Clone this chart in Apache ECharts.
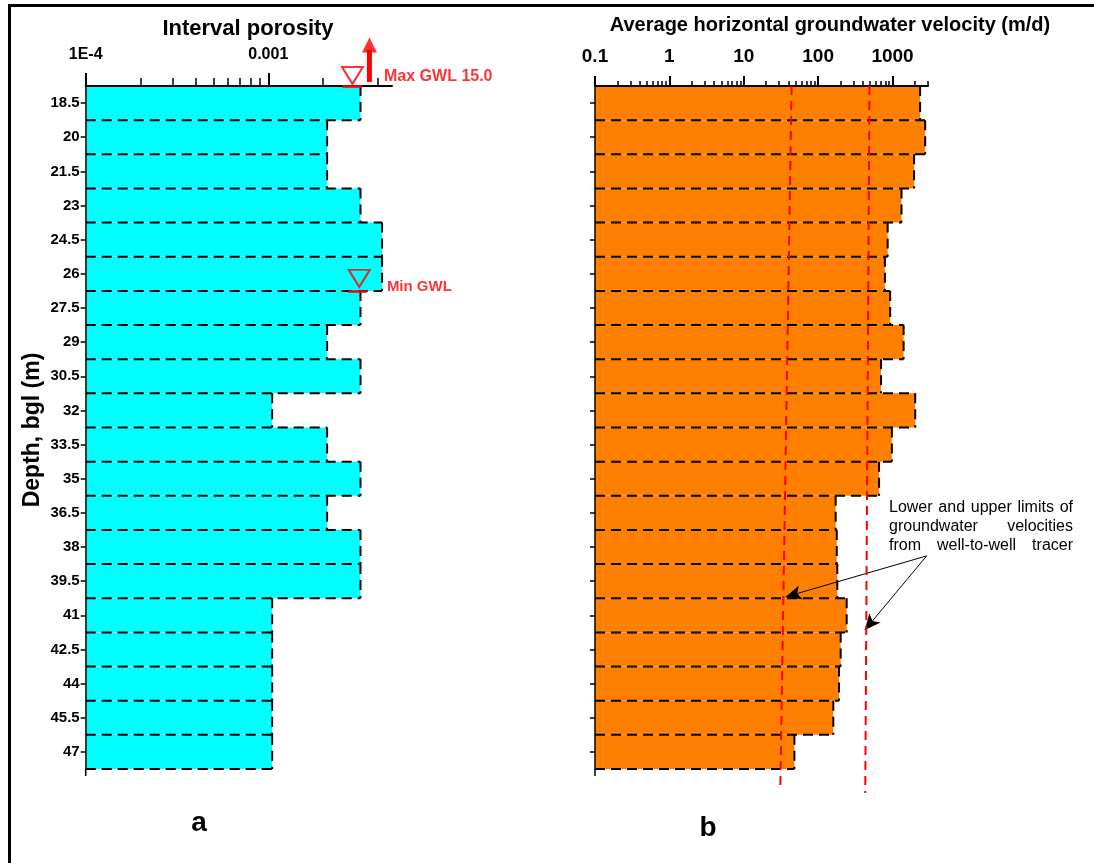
<!DOCTYPE html>
<html>
<head>
<meta charset="utf-8">
<script src="https://cdn.jsdelivr.net/npm/echarts@6/dist/echarts.min.js"></script>
<style>
  html, body { margin: 0; padding: 0; background: #fff; }
  #chart { width: 1094px; height: 863px; }
</style>
</head>
<body>
<div id="chart"></div>
<script>
// ---- data ----
const depthLabels = ['18.5', '20', '21.5', '23', '24.5', '26', '27.5', '29', '30.5', '32',
  '33.5', '35', '36.5', '38', '39.5', '41', '42.5', '44', '45.5', '47'];

// (a) interval porosity per 1.5 m interval
const porosity = [0.0032, 0.0021, 0.0021, 0.0032, 0.0042, 0.0042, 0.0032, 0.0021, 0.0032, 0.00105,
  0.0021, 0.0032, 0.0021, 0.0032, 0.0032, 0.00105, 0.00105, 0.00105, 0.00105, 0.00105];

// (b) average horizontal groundwater velocity, m/d
const velocity = [2350, 2750, 1950, 1320, 860, 790, 930, 1410, 700, 2020,
  980, 660, 172, 178, 181, 242, 201, 191, 160, 48];

const porosityRange = [0.0001, 0.00476];
const porosityMajorTicks = [0.0001, 0.001];
const porosityTickText = ['1E-4', '0.001'];
const porosityMinorTicks = [0.0002, 0.0003, 0.0004, 0.0005, 0.0006, 0.0007, 0.0008, 0.0009, 0.002, 0.004];

const velocityRange = [0.1, 3000];
const velocityMajorTicks = [0.1, 1, 10, 100, 1000];
const velocityTickText = ['0.1', '1', '10', '100', '1000'];
const velocityMinorTicks = [0.2, 0.3, 0.4, 0.5, 0.6, 0.7, 0.8, 0.9, 2, 3, 4, 5, 6, 7, 8, 9,
  20, 30, 40, 50, 60, 70, 80, 90, 200, 300, 400, 500, 600, 700, 800, 900, 2000, 3000];

// depth extent of the logged section (interval edges), m bgl
const depthRange = [17.75, 47.75];

// tracer velocity limits drawn as dashed verticals: [velocity, depth]
const tracerLower = [[44, 17.75], [31, 48.6]];
const tracerUpper = [[490, 17.75], [430, 48.8]];
// pointer arrows from the note to the two limit lines
const tracerArrowFrom = [2877, 38.39];
const tracerArrowTo = [[36.5, 40.19], [424, 41.65]];

// groundwater levels: max GWL (15.0 m) lies above the section, min GWL at 26.75 m
const gwlMarks = [
  { name: 'Max GWL 15.0', porosity: 0.00289, depth: 17.75, under: [0.00254, 0.00326] },
  { name: 'Min GWL', porosity: 0.00315, depth: 26.75, under: [0.00273, 0.00347] }
];
const maxGwlArrow = { porosity: 0.00358, from: 17.57, to: 16.15, head: 15.95 };

// ---- styling helpers ----
const FONT = 'Arial, "Liberation Sans", sans-serif';
const RED = '#ff0000';

function tickFormatter(ticks, texts) {
  return function (v) {
    for (let k = 0; k < ticks.length; k++) {
      if (Math.abs(Math.log10(v) - Math.log10(ticks[k])) < 1e-6) return texts[k];
    }
    return '';
  };
}

function majorLogAxis(gridIndex, range, ticks, texts, labelSize, margin, tickLen) {
  return {
    type: 'log', logBase: 10, gridIndex, position: 'top',
    min: range[0], max: range[1], z: 3,
    axisLine: { show: true, lineStyle: { color: '#000', width: 2 } },
    axisTick: { show: true, inside: false, length: tickLen, customValues: ticks,
      lineStyle: { color: '#000', width: 2 } },
    axisLabel: { show: true, customValues: ticks, margin,
      formatter: tickFormatter(ticks, texts),
      color: '#000', fontSize: labelSize, fontWeight: 'bold', fontFamily: FONT },
    splitLine: { show: false }, minorTick: { show: false }
  };
}

function minorLogAxis(gridIndex, range, ticks, tickLen) {
  return {
    type: 'log', logBase: 10, gridIndex, position: 'top',
    min: range[0], max: range[1], z: 3,
    axisLine: { show: false },
    axisTick: { show: true, inside: false, length: tickLen, customValues: ticks,
      lineStyle: { color: '#000', width: 1.5 } },
    axisLabel: { show: false },
    splitLine: { show: false }
  };
}

function depthCategoryAxis(gridIndex, showLabels) {
  return {
    type: 'category', gridIndex, data: depthLabels, inverse: true, position: 'left', z: 3,
    axisLine: { show: true, lineStyle: { color: '#000', width: 1.5 } },
    axisTick: { show: true, alignWithLabel: true, length: 5, lineStyle: { color: '#000', width: 1.5 } },
    axisLabel: { show: showLabels, margin: 6, color: '#000', fontSize: 15, fontWeight: 'bold', fontFamily: FONT },
    splitLine: { show: false }
  };
}

function depthValueAxis(gridIndex) {
  return { type: 'value', gridIndex, min: depthRange[0], max: depthRange[1], inverse: true, show: false,
    position: 'right', splitLine: { show: false } };
}

// Interval bars: filled band plus dashed top/right edges (bottom edge on the last interval)
function intervalBars(values, axisMin, fill, xIdx, yIdx) {
  return {
    type: 'custom', xAxisIndex: xIdx, yAxisIndex: yIdx, z: 2,
    data: values.map((v, i) => [v, depthLabels[i]]),
    encode: { x: 0, y: 1 },
    renderItem: function (params, api) {
      const i = params.dataIndex;
      const end = api.coord([values[i], depthLabels[i]]);
      const x0 = api.coord([axisMin, depthLabels[i]])[0];
      const band = api.size([0, 1], [values[i], depthLabels[i]])[1];
      const yTop = end[1] - band / 2;
      const yBot = end[1] + band / 2;
      const dash = { stroke: '#000', lineWidth: 2, lineDash: [10, 6], fill: null };
      const children = [{
        type: 'rect', z2: 0,
        shape: { x: x0, y: yTop, width: end[0] - x0, height: band },
        style: { fill: fill, stroke: null }
      }];
      if (i > 0) {
        const prevX = api.coord([values[i - 1], depthLabels[i - 1]])[0];
        children.push({ type: 'line', z2: 5, shape: { x1: x0, y1: yTop, x2: Math.max(prevX, end[0]), y2: yTop }, style: dash });
      }
      children.push({ type: 'line', z2: 5, shape: { x1: end[0], y1: yTop, x2: end[0], y2: yBot }, style: dash });
      if (i === values.length - 1) {
        children.push({ type: 'line', z2: 5, shape: { x1: x0, y1: yBot, x2: end[0], y2: yBot }, style: dash });
      }
      return { type: 'group', children };
    }
  };
}

// justified note text, word by word
const measureCtx = document.createElement('canvas').getContext('2d');
const NOTE_FONT = '16px ' + FONT;
function justifiedLine(words, left, right, y) {
  measureCtx.font = NOTE_FONT;
  const widths = words.map(w => measureCtx.measureText(w).width);
  const total = widths.reduce((a, b) => a + b, 0);
  const gap = words.length > 1 ? (right - left - total) / (words.length - 1) : 0;
  let x = left;
  return words.map((w, k) => {
    const el = { type: 'text', x: x, y: y, z: 20,
      style: { text: w, font: NOTE_FONT, fill: '#000', verticalAlign: 'middle', align: 'left' } };
    x += widths[k] + gap;
    return el;
  });
}

const noteLines = [
  ['Lower', 'and', 'upper', 'limits', 'of'],
  ['groundwater', 'velocities'],
  ['from', 'well-to-well', 'tracer']
];
const noteY = [508, 527, 546];
let noteElements = [];
noteLines.forEach((words, k) => {
  noteElements = noteElements.concat(justifiedLine(words, 889, 1073, noteY[k]));
});

// axis lines run a few pixels past the last interval
function axisTail(x) {
  return { type: 'line', z: 20, shape: { x1: x, y1: 769, x2: x, y2: 776 },
    style: { stroke: '#000', lineWidth: 1.5 } };
}

const chart = echarts.init(document.getElementById('chart'), null, { renderer: 'canvas' });

const option = {
  backgroundColor: '#ffffff',
  animation: false,
  grid: [
    { left: 85.7, top: 86, width: 306.3, height: 683, containLabel: false, outerBoundsMode: 'none' },
    { left: 595, top: 86, width: 333, height: 683, containLabel: false, outerBoundsMode: 'none' }
  ],
  xAxis: [
    majorLogAxis(0, porosityRange, porosityMajorTicks, porosityTickText, 16, 23, 13),
    minorLogAxis(0, porosityRange, porosityMinorTicks, 8),
    majorLogAxis(1, velocityRange, velocityMajorTicks, velocityTickText, 19, 20, 10),
    minorLogAxis(1, velocityRange, velocityMinorTicks, 5)
  ],
  yAxis: [
    depthCategoryAxis(0, true),
    depthValueAxis(0),
    depthCategoryAxis(1, false),
    depthValueAxis(1)
  ],
  series: [
    intervalBars(porosity, porosityRange[0], '#00ffff', 0, 0),
    intervalBars(velocity, velocityRange[0], '#ff8000', 2, 2),
    {
      name: 'Lower tracer limit', type: 'line', xAxisIndex: 2, yAxisIndex: 3, z: 6,
      data: tracerLower, symbol: 'none', clip: false,
      lineStyle: { color: RED, width: 2, type: [9, 6] }
    },
    {
      name: 'Upper tracer limit', type: 'line', xAxisIndex: 2, yAxisIndex: 3, z: 6,
      data: tracerUpper, symbol: 'none', clip: false,
      lineStyle: { color: RED, width: 2, type: [9, 6] },
      markLine: {
        silent: true, symbol: ['none', 'arrow'], symbolSize: [11, 16], precision: 6,
        label: { show: false },
        lineStyle: { color: '#000', width: 1, type: 'solid' },
        emphasis: { disabled: true },
        data: tracerArrowTo.map(p => [{ coord: tracerArrowFrom }, { coord: p }])
      }
    },
    {
      name: 'GWL', type: 'scatter', xAxisIndex: 0, yAxisIndex: 1, z: 7, clip: false,
      symbol: 'path://M0,0 L20,0 L10,17 Z', symbolSize: [21, 17],
      itemStyle: { color: 'rgba(0,0,0,0)', borderColor: RED, borderWidth: 2 },
      label: { show: true, position: 'right', formatter: '{b}', color: RED,
        fontSize: 15, fontWeight: 'bold', fontFamily: FONT },
      data: gwlMarks.map((g, k) => ({
        name: g.name, value: [g.porosity, g.depth],
        symbolOffset: k === 0 ? [0, -10.5] : [0, -12.5],
        label: k === 0 ? { distance: 20, offset: [0, 1], fontSize: 16 } : { distance: 16, offset: [0, 8.5] }
      })),
      markLine: {
        silent: true, symbol: ['none', 'none'], label: { show: false }, precision: 6,
        lineStyle: { color: RED, width: 2.5, type: 'solid' },
        emphasis: { disabled: true },
        data: gwlMarks.map(g => [{ coord: [g.under[0], g.depth] }, { coord: [g.under[1], g.depth] }])
      }
    },
    {
      name: 'Max GWL shaft', type: 'line', xAxisIndex: 0, yAxisIndex: 1, z: 7, clip: false,
      symbol: 'none', lineStyle: { color: RED, width: 5 },
      data: [[maxGwlArrow.porosity, maxGwlArrow.from], [maxGwlArrow.porosity, maxGwlArrow.to]]
    },
    {
      name: 'Max GWL head', type: 'scatter', xAxisIndex: 0, yAxisIndex: 1, z: 7, clip: false,
      symbol: 'triangle', symbolSize: [15, 15], itemStyle: { color: RED },
      data: [[maxGwlArrow.porosity, maxGwlArrow.head]]
    }
  ],
  graphic: [
    { type: 'rect', z: 30, shape: { x: 9.5, y: 5.5, width: 1200, height: 1000 },
      style: { fill: null, stroke: '#000', lineWidth: 3 } },
    { type: 'text', x: 248, y: 29, z: 20,
      style: { text: 'Interval porosity', font: 'bold 22px ' + FONT, fill: '#000', align: 'center', verticalAlign: 'middle' } },
    { type: 'text', x: 830, y: 25, z: 20,
      style: { text: 'Average horizontal groundwater velocity (m/d)', font: 'bold 20px ' + FONT, fill: '#000', align: 'center', verticalAlign: 'middle' } },
    { type: 'text', x: 33, y: 430, z: 20, rotation: Math.PI / 2,
      style: { text: 'Depth, bgl (m)', font: 'bold 23px ' + FONT, fill: '#000', align: 'center', verticalAlign: 'middle' } },
    { type: 'text', x: 199, y: 823, z: 20,
      style: { text: 'a', font: 'bold 28px ' + FONT, fill: '#000', align: 'center', verticalAlign: 'middle' } },
    { type: 'text', x: 708, y: 828, z: 20,
      style: { text: 'b', font: 'bold 28px ' + FONT, fill: '#000', align: 'center', verticalAlign: 'middle' } },
    axisTail(85.7),
    axisTail(595)
  ].concat(noteElements)
};

chart.setOption(option);
</script>
</body>
</html>
